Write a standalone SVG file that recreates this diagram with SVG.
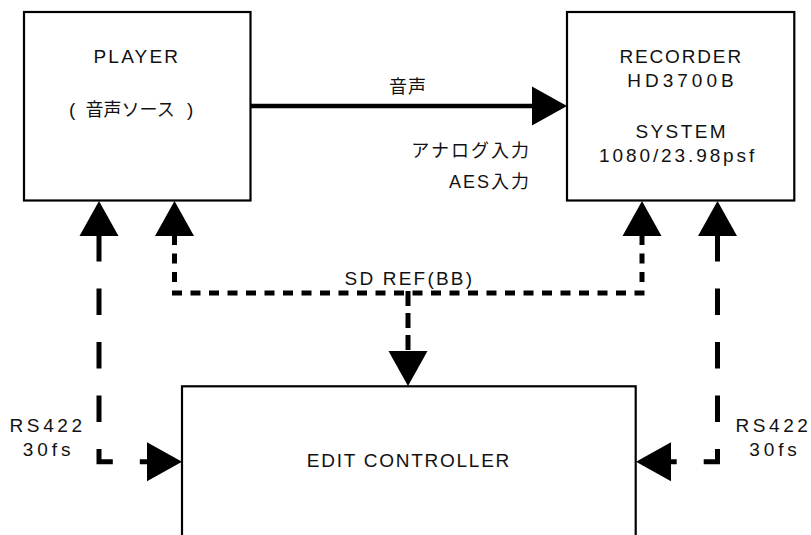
<svg xmlns="http://www.w3.org/2000/svg" xmlns:xlink="http://www.w3.org/1999/xlink" width="811" height="535" viewBox="0 0 811 535">
<style>
.box{fill:#fff;stroke:#000;stroke-width:2.2}
.t{font-family:"Liberation Sans","Noto Sans CJK JP",sans-serif;font-size:19px;fill:#111}
.j{font-size:18px}
.m{text-anchor:middle}
.e{text-anchor:end}
.solid{fill:none;stroke:#000;stroke-width:4.5}
.long{fill:none;stroke:#000;stroke-width:5;stroke-dasharray:26.5 27}
.short{fill:none;stroke:#000;stroke-width:5;stroke-dasharray:10 8.5}
.ah{fill:#000}
</style>
<defs>
<polygon id="ahUp" class="ah" points="0,0 -19.5,35 19.5,35"/>
</defs>
<rect width="811" height="535" fill="#fff"/>
<g id="connectors">
<line class="solid" x1="251" y1="106" x2="533" y2="106"/>
<path class="long" d="M99,235 V461.7 H150"/>
<path class="long" d="M717.5,235 V461.7 H667"/>
<path class="short" d="M174.5,235 V293 H642 V235"/>
<path class="short" style="stroke-dasharray:15 7" d="M408,291 V352"/>
<use xlink:href="#ahUp" href="#ahUp" x="99" y="201"/>
<use xlink:href="#ahUp" href="#ahUp" x="174.5" y="201"/>
<use xlink:href="#ahUp" href="#ahUp" x="642" y="201"/>
<use xlink:href="#ahUp" href="#ahUp" x="717.5" y="201"/>
<use xlink:href="#ahUp" href="#ahUp" transform="translate(567,106) rotate(90)"/>
<use xlink:href="#ahUp" href="#ahUp" transform="translate(408,386) rotate(180)"/>
<use xlink:href="#ahUp" href="#ahUp" transform="translate(182,461.7) rotate(90)"/>
<use xlink:href="#ahUp" href="#ahUp" transform="translate(636,461.7) rotate(-90)"/>
<text class="t j m" x="408" y="93" style="letter-spacing:1px">音声</text>
<text class="t j e" x="531" y="157" style="letter-spacing:2px">アナログ入力</text>
<text class="t j e" x="531" y="188" style="letter-spacing:2px">AES入力</text>
<text class="t m" x="409.4" y="285" style="letter-spacing:2.2px">SD REF(BB)</text>
<text class="t m" x="47.6" y="431.7" style="letter-spacing:3.6px">RS422</text>
<text class="t m" x="48.6" y="456" style="letter-spacing:3.9px">30fs</text>
<text class="t m" x="773.5" y="431.7" style="letter-spacing:3.6px">RS422</text>
<text class="t m" x="775" y="456" style="letter-spacing:3.9px">30fs</text>
</g>
<g id="player">
<rect class="box" x="24" y="12" width="226.5" height="188.5"/>
<text class="t m" x="136.9" y="63" style="letter-spacing:2.2px">PLAYER</text>
<text class="t" x="69" y="116">( <tspan class="j" dx="5">音声ソース</tspan> <tspan dx="7">)</tspan></text>
</g>
<g id="recorder">
<rect class="box" x="567" y="12" width="227.3" height="188.5"/>
<text class="t m" x="681.2" y="63" style="letter-spacing:1.85px">RECORDER</text>
<text class="t m" x="682.5" y="87" style="letter-spacing:4px">HD3700B</text>
<text class="t m" x="681.7" y="138" style="letter-spacing:2.4px">SYSTEM</text>
<text class="t m" x="678.1" y="162" style="letter-spacing:2.9px">1080/23.98psf</text>
</g>
<g id="edit-controller">
<rect class="box" x="182" y="386.3" width="453.7" height="170"/>
<text class="t m" x="408.9" y="467" style="letter-spacing:1.75px">EDIT CONTROLLER</text>
</g>
</svg>
